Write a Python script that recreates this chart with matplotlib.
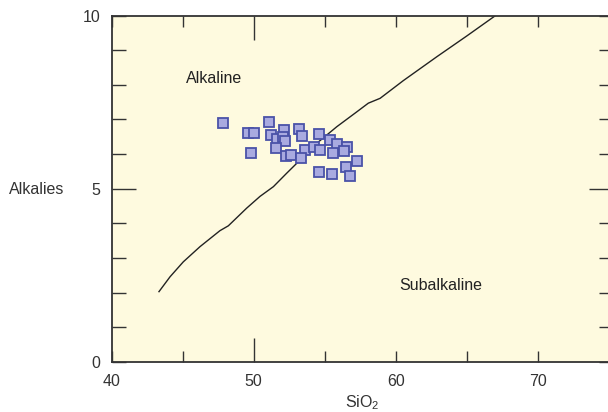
import numpy as np
import matplotlib.pyplot as plt

#-----------------------------------------------------------------------------#
# Data
#-----------------------------------------------------------------------------#

sio2 = [47.85, 49.63, 50.03, 51.10, 49.80, 51.20, 52.16, 51.63, 52.07, 52.19,
        51.56, 53.22, 53.38, 52.30, 52.63, 53.62, 53.34, 54.25, 54.60, 54.65,
        55.38, 55.89, 56.55, 56.34, 55.59, 57.28, 56.48, 54.58, 55.50, 56.80]
alk = [6.89, 6.62, 6.62, 6.92, 6.04, 6.54, 6.69, 6.43, 6.49, 6.37,
       6.18, 6.72, 6.52, 5.95, 5.98, 6.11, 5.89, 6.20, 6.57, 6.11,
       6.41, 6.28, 6.20, 6.10, 6.04, 5.81, 5.63, 5.47, 5.42, 5.38]

# alkaline / subalkaline dividing line
curve_x = [43.34, 44.12, 45.05, 46.23, 47.63, 48.22, 49.51, 50.45, 51.39, 52.33,
           53.27, 54.44, 55.85, 57.26, 58.07, 58.90, 60.53, 62.89, 65.00, 66.99]
curve_y = [2.03, 2.46, 2.89, 3.33, 3.79, 3.93, 4.44, 4.78, 5.06, 5.45,
           5.83, 6.31, 6.79, 7.22, 7.47, 7.61, 8.12, 8.81, 9.41, 9.99]

xticks = [40, 45, 50, 55, 60, 65, 70, 75]
xlabels = ['40', '', '50', '', '60', '', '70', '']
yticks = list(range(0, 11))
ylabels = ['0', '', '', '', '', '5', '', '', '', '', '10']

#-----------------------------------------------------------------------------#
# Plot
#-----------------------------------------------------------------------------#

plt.rcParams['font.family'] = ['Liberation Sans', 'DejaVu Sans']
W, H = 608, 412
fig = plt.figure(figsize=(W/100, H/100), dpi=100)
ax = fig.add_axes([111.5/W, 50/H, 501/W, 346.5/H])
ax.set_facecolor('#fefadf')

ax.plot(curve_x, curve_y, color='#222222', linewidth=1.0)
ax.plot(sio2, alk, linestyle='none', marker='s', markersize=6.8,
        markerfacecolor='#a9aae0', markeredgecolor='#4a52a8', markeredgewidth=1.3)

ax.text(45.24, 8.17, 'Alkaline', fontsize=11.5, color='#222222', va='center', ha='left')
ax.text(60.25, 2.20, 'Subalkaline', fontsize=11.5, color='#222222', va='center', ha='left')

ax.set_xlim(40, 75.25)
ax.set_ylim(0, 10)
ax.set_xticks(xticks)
ax.set_xticklabels(xlabels)
ax.set_yticks(yticks)
ax.set_yticklabels(ylabels)
ax.tick_params(direction='in', length=8, width=1.0, color='#333333',
               labelsize=11.5, labelcolor='#333333', pad=9,
               top=True, right=True)
ax.tick_params(axis='y', length=10, pad=8)

# the 50 and 5 ticks are drawn longer
for t in [ax.xaxis.get_major_ticks()[2]]:
    t.tick1line.set_markersize(17)
    t.tick2line.set_markersize(17)
for t in [ax.yaxis.get_major_ticks()[5]]:
    t.tick1line.set_markersize(17)
    t.tick2line.set_markersize(17)

for s in ax.spines.values():
    s.set_color('#333333')
    s.set_linewidth(1.3)

ax.set_xlabel('SiO$_\\mathregular{2}$', fontsize=11.5, color='#333333', labelpad=3)
fig.text(36.5/W, 1-190/H, 'Alkalies', fontsize=11.5, color='#333333', ha='center', va='center')

fig.savefig('out.png', dpi=100)
